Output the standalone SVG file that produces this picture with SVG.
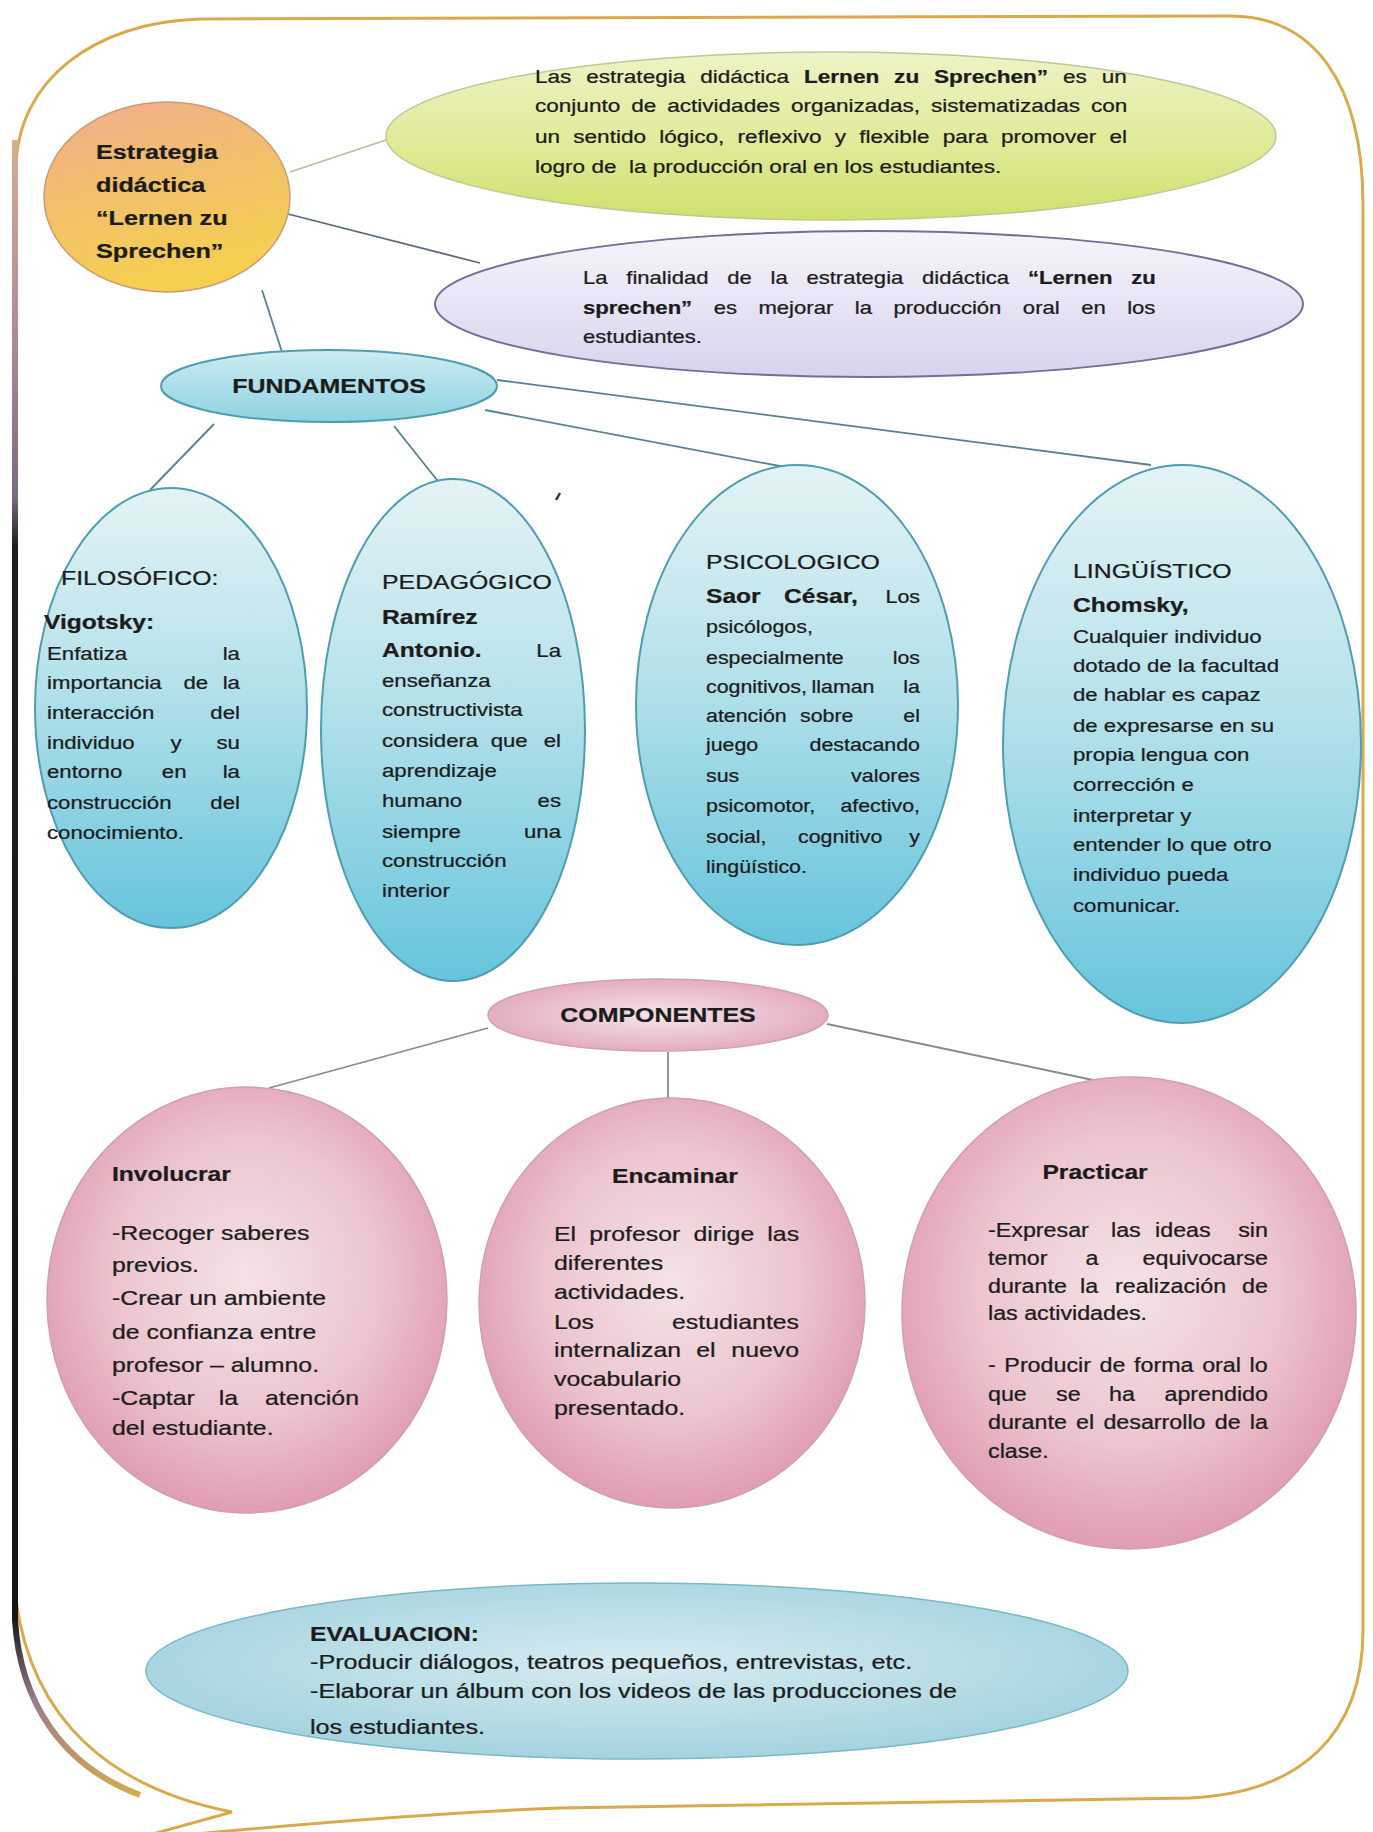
<svg xmlns="http://www.w3.org/2000/svg" width="1373" height="1832" viewBox="0 0 1373 1832">
<defs>
<style>
text{font-family:"Liberation Sans",Arial,sans-serif;fill:#1c1c1c;stroke:#1c1c1c;stroke-width:0.25}
.b{font-weight:bold}
.h{font-size:20.7px}
.n{font-size:20.5px;font-weight:bold}
.s{font-size:18.5px}
.p{font-size:17.8px}
.m{font-size:20.7px}
.r{font-size:19.4px}
.g{font-size:18.8px}
.l{font-size:18.4px}
.e{font-size:21px}
.end{text-anchor:end}
.mid{text-anchor:middle}
.cn{stroke:#5a6a7c;stroke-width:1.8;fill:none}
.blue{fill:url(#gBlue);stroke:#4f9db1;stroke-width:2}
.pink{fill:url(#gPink);stroke:#d0a0b0;stroke-width:1.5}
</style>
<linearGradient id="gOrange" x1="0" y1="0" x2="0.3" y2="1">
<stop offset="0" stop-color="#efad8f"/><stop offset="0.5" stop-color="#f2bf6c"/><stop offset="1" stop-color="#f5cf50"/>
</linearGradient>
<linearGradient id="gGreen" x1="0" y1="0" x2="0" y2="1">
<stop offset="0" stop-color="#eef3c6"/><stop offset="0.55" stop-color="#e0ea98"/><stop offset="1" stop-color="#d0e06c"/>
</linearGradient>
<linearGradient id="gLav" x1="0" y1="0" x2="0" y2="1">
<stop offset="0" stop-color="#f6f5fb"/><stop offset="1" stop-color="#d8d3ee"/>
</linearGradient>
<linearGradient id="gBlue" x1="0" y1="0" x2="0" y2="1">
<stop offset="0" stop-color="#e4f3f5"/><stop offset="0.45" stop-color="#b4e1ea"/><stop offset="1" stop-color="#66c4dc"/>
</linearGradient>
<linearGradient id="gFund" x1="0" y1="0" x2="0" y2="1">
<stop offset="0" stop-color="#cdecf1"/><stop offset="1" stop-color="#8dd2e2"/>
</linearGradient>
<radialGradient id="gPink" cx="0.5" cy="0.45" r="0.55">
<stop offset="0" stop-color="#f4e2e7"/><stop offset="0.6" stop-color="#ecc4d0"/><stop offset="1" stop-color="#e09cb2"/>
</radialGradient>
<radialGradient id="gComp" cx="0.5" cy="0.5" r="0.55">
<stop offset="0" stop-color="#f6e4ea"/><stop offset="1" stop-color="#e2a8bb"/>
</radialGradient>
<radialGradient id="gEval" cx="0.5" cy="0.45" r="0.55">
<stop offset="0" stop-color="#d6ebf0"/><stop offset="1" stop-color="#a4d3df"/>
</radialGradient>
<linearGradient id="gLeft" gradientUnits="userSpaceOnUse" x1="0" y1="130" x2="0" y2="1800">
<stop offset="0" stop-color="#d8b08a"/><stop offset="0.12" stop-color="#b48a9c"/><stop offset="0.22" stop-color="#7a6a80"/><stop offset="0.25" stop-color="#1e1e1e"/><stop offset="0.89" stop-color="#141414"/><stop offset="0.94" stop-color="#9a7a8a"/><stop offset="1" stop-color="#d8ae4c"/>
</linearGradient>
</defs>
<rect width="1373" height="1832" fill="#ffffff"/>

<g id="frame">
<path d="M 16,170 C 16,80 95,22 200,19 L 1230,16 C 1315,16 1363,85 1363,205 L 1363,1630 C 1363,1735 1300,1793 1190,1798 L 560,1808 C 420,1813 280,1826 185,1835 L 95,1850 L 232,1812 C 110,1788 32,1720 16,1600" fill="none" stroke="#d9aa4c" stroke-width="3"/>
<path d="M 15,140 L 15,1620 C 20,1700 60,1765 140,1795" fill="none" stroke="url(#gLeft)" stroke-width="6"/>
</g>

<g id="connectors">
<line class="cn" x1="290" y1="172" x2="392" y2="138" style="stroke:#b9c29e"/>
<line class="cn" x1="288" y1="214" x2="480" y2="263"/>
<line class="cn" x1="262" y1="290" x2="282" y2="352" style="stroke:#5a8090"/>
<line class="cn" x1="214" y1="424" x2="150" y2="490" style="stroke:#5a8090"/>
<line class="cn" x1="394" y1="426" x2="441" y2="485" style="stroke:#5a8090"/>
<line class="cn" x1="485" y1="410" x2="790" y2="468" style="stroke:#5a8090"/>
<line class="cn" x1="497" y1="380" x2="1151" y2="465" style="stroke:#5a8090"/>
<line class="cn" x1="488" y1="1028" x2="269" y2="1088" style="stroke:#8a8a8a"/>
<line class="cn" x1="668" y1="1052" x2="668" y2="1098" style="stroke:#8a8a8a"/>
<line class="cn" x1="827" y1="1024" x2="1093" y2="1080" style="stroke:#8a8a8a"/>
<line x1="556" y1="500" x2="560" y2="493" stroke="#333" stroke-width="2.5"/>
</g>

<g id="n-estrategia">
<ellipse cx="167" cy="197" rx="123" ry="95" fill="url(#gOrange)" stroke="#c99c74" stroke-width="1.5"/>
<g transform="translate(96,0) scale(1.2,1)">
<text class="b" style="font-size:21px"><tspan x="0" y="159">Estrategia</tspan><tspan x="0" y="192">didáctica</tspan><tspan x="0" y="225">“Lernen zu</tspan><tspan x="0" y="258">Sprechen”</tspan></text>
</g>
</g>

<g id="n-definicion">
<ellipse cx="831" cy="136" rx="445" ry="84" fill="url(#gGreen)" stroke="#bcc997" stroke-width="1.5"/>
<g transform="translate(535,0) scale(1.2,1)">
<text class="g" x="0" y="83" word-spacing="7.2">Las estrategia didáctica <tspan class="b">Lernen zu Sprechen”</tspan> es un</text>
<text class="g" x="0" y="112" word-spacing="3.9">conjunto de actividades organizadas, sistematizadas con</text>
<text class="g" x="0" y="143" word-spacing="5.8">un sentido lógico, reflexivo y flexible para promover el</text>
<text class="g" x="0" y="173" xml:space="preserve">logro de  la producción oral en los estudiantes.</text>
</g>
</g>

<g id="n-finalidad">
<ellipse cx="869" cy="304" rx="434" ry="73" fill="url(#gLav)" stroke="#6f6f98" stroke-width="2"/>
<g transform="translate(583,0) scale(1.2,1)">
<text class="l" x="0" y="284" word-spacing="10.5">La finalidad de la estrategia didáctica <tspan class="b">“Lernen zu</tspan></text>
<text class="l" x="0" y="314" word-spacing="12.8"><tspan class="b">sprechen”</tspan> es mejorar la producción oral en los</text>
<text class="l" x="0" y="343">estudiantes.</text>
</g>
</g>

<g id="n-fundamentos">
<ellipse cx="329" cy="386" rx="168" ry="36" fill="url(#gFund)" stroke="#4f9db1" stroke-width="2"/>
<g transform="translate(329,0) scale(1.2,1)"><text class="b mid" style="font-size:20.8px" x="0" y="393">FUNDAMENTOS</text></g>
</g>

<g id="n-filosofico">
<ellipse class="blue" cx="171" cy="708" rx="136" ry="220"/>
<g transform="translate(47,0) scale(1.2,1)">
<text class="h" x="11.7" y="585">FILOSÓFICO:</text>
<text class="n" x="-2.5" y="629">Vigotsky:</text>
<text class="s" y="660"><tspan x="0">Enfatiza</tspan><tspan class="end" x="160.8">la</tspan></text>
<text class="s" y="689"><tspan x="0">importancia</tspan><tspan class="mid" x="124">de</tspan><tspan class="end" x="160.8">la</tspan></text>
<text class="s" y="719"><tspan x="0">interacción</tspan><tspan class="end" x="160.8">del</tspan></text>
<text class="s" y="749"><tspan x="0">individuo</tspan><tspan class="mid" x="107.5">y</tspan><tspan class="end" x="160.8">su</tspan></text>
<text class="s" y="778"><tspan x="0">entorno</tspan><tspan class="mid" x="106">en</tspan><tspan class="end" x="160.8">la</tspan></text>
<text class="s" y="809"><tspan x="0">construcción</tspan><tspan class="end" x="160.8">del</tspan></text>
<text class="s" x="0" y="839">conocimiento.</text>
</g>
</g>

<g id="n-pedagogico">
<ellipse class="blue" cx="453" cy="730" rx="132" ry="251"/>
<g transform="translate(382,0) scale(1.2,1)">
<text class="h" x="0" y="589">PEDAGÓGICO</text>
<text class="n" x="0" y="624">Ramírez</text>
<text class="n" x="0" y="657">Antonio.</text>
<text class="s end" x="149.2" y="657">La</text>
<text class="s" x="0" y="687">enseñanza</text>
<text class="s" x="0" y="716">constructivista</text>
<text class="s" y="747"><tspan x="0">considera</tspan><tspan class="mid" x="106">que</tspan><tspan class="end" x="149.2">el</tspan></text>
<text class="s" x="0" y="777">aprendizaje</text>
<text class="s" y="807"><tspan x="0">humano</tspan><tspan class="end" x="149.2">es</tspan></text>
<text class="s" y="838"><tspan x="0">siempre</tspan><tspan class="end" x="149.2">una</tspan></text>
<text class="s" x="0" y="867">construcción</text>
<text class="s" x="0" y="897">interior</text>
</g>
</g>

<g id="n-psicologico">
<ellipse class="blue" cx="797" cy="705" rx="161" ry="240"/>
<g transform="translate(706,0) scale(1.2,1)">
<text class="h" x="0" y="569">PSICOLOGICO</text>
<text class="n" y="603"><tspan x="0">Saor</tspan><tspan x="65">César,</tspan></text>
<text class="p end" x="178.3" y="603">Los</text>
<text class="p" x="0" y="633">psicólogos,</text>
<text class="p" y="664"><tspan x="0">especialmente</tspan><tspan class="end" x="178.3">los</tspan></text>
<text class="p" y="693"><tspan x="0">cognitivos,</tspan><tspan x="88">llaman</tspan><tspan class="end" x="178.3">la</tspan></text>
<text class="p" y="722"><tspan x="0">atención</tspan><tspan x="78.3">sobre</tspan><tspan class="end" x="178.3">el</tspan></text>
<text class="p" y="751"><tspan x="0">juego</tspan><tspan class="end" x="178.3">destacando</tspan></text>
<text class="p" y="782"><tspan x="0">sus</tspan><tspan class="end" x="178.3">valores</tspan></text>
<text class="p" y="812"><tspan x="0">psicomotor,</tspan><tspan class="end" x="178.3">afectivo,</tspan></text>
<text class="p" y="843"><tspan x="0">social,</tspan><tspan x="76.7">cognitivo</tspan><tspan class="end" x="178.3">y</tspan></text>
<text class="p" x="0" y="873">lingüístico.</text>
</g>
</g>

<g id="n-linguistico">
<ellipse class="blue" cx="1182" cy="744" rx="179" ry="279"/>
<g transform="translate(1073,0) scale(1.2,1)">
<text class="h" x="0" y="578">LINGÜÍSTICO</text>
<text class="n" x="0" y="612">Chomsky,</text>
<text class="s"><tspan x="0" y="643">Cualquier individuo</tspan><tspan x="0" y="672">dotado de la facultad</tspan><tspan x="0" y="701">de hablar es capaz</tspan><tspan x="0" y="732">de expresarse en su</tspan><tspan x="0" y="761">propia lengua con</tspan><tspan x="0" y="791">corrección e</tspan><tspan x="0" y="822">interpretar y</tspan><tspan x="0" y="851">entender lo que otro</tspan><tspan x="0" y="881">individuo pueda</tspan><tspan x="0" y="912">comunicar.</tspan></text>
</g>
</g>

<g id="n-componentes">
<ellipse cx="658" cy="1015" rx="170" ry="36" fill="url(#gComp)" stroke="#d0a2b2" stroke-width="1.5"/>
<g transform="translate(658,0) scale(1.2,1)"><text class="b mid" style="font-size:20.8px" x="0" y="1022">COMPONENTES</text></g>
</g>

<g id="n-involucrar">
<ellipse class="pink" cx="247" cy="1300" rx="200" ry="213"/>
<g transform="translate(112,0) scale(1.2,1)">
<text class="n" x="0" y="1181">Involucrar</text>
<text class="m"><tspan x="0" y="1240">-Recoger saberes</tspan><tspan x="0" y="1272">previos.</tspan><tspan x="0" y="1305">-Crear un ambiente</tspan><tspan x="0" y="1339">de confianza entre</tspan><tspan x="0" y="1372">profesor – alumno.</tspan></text>
<text class="m" y="1405"><tspan x="0">-Captar</tspan><tspan x="89">la</tspan><tspan class="end" x="205.8">atención</tspan></text>
<text class="m" x="0" y="1435">del estudiante.</text>
</g>
</g>

<g id="n-encaminar">
<ellipse class="pink" cx="672" cy="1303" rx="193" ry="205"/>
<g transform="translate(554,0) scale(1.2,1)">
<text class="n mid" x="100.8" y="1183">Encaminar</text>
<text class="m" x="0" y="1241" word-spacing="5.2">El profesor dirige las</text>
<text class="m" x="0" y="1270">diferentes</text>
<text class="m" x="0" y="1299">actividades.</text>
<text class="m" y="1329"><tspan x="0">Los</tspan><tspan class="end" x="204.2">estudiantes</tspan></text>
<text class="m" y="1357"><tspan x="0">internalizan</tspan><tspan class="mid" x="126.6">el</tspan><tspan class="end" x="204.2">nuevo</tspan></text>
<text class="m" x="0" y="1386">vocabulario</text>
<text class="m" x="0" y="1415">presentado.</text>
</g>
</g>

<g id="n-practicar">
<ellipse class="pink" cx="1129" cy="1313" rx="227" ry="236"/>
<g transform="translate(988,0) scale(1.2,1)">
<text class="n mid" x="89.2" y="1179">Practicar</text>
<text class="r" y="1237"><tspan x="0">-Expresar</tspan><tspan x="102.5">las</tspan><tspan x="139.2">ideas</tspan><tspan class="end" x="233.3">sin</tspan></text>
<text class="r" y="1265"><tspan x="0">temor</tspan><tspan class="mid" x="86.7">a</tspan><tspan class="end" x="233.3">equivocarse</tspan></text>
<text class="r" y="1293"><tspan x="0">durante</tspan><tspan x="76.7">la</tspan><tspan x="105.8">realización</tspan><tspan class="end" x="233.3">de</tspan></text>
<text class="r" x="0" y="1320">las actividades.</text>
<text class="r" x="0" y="1372" word-spacing="1.8">- Producir de forma oral lo</text>
<text class="r" y="1401"><tspan x="0">que</tspan><tspan x="56.7">se</tspan><tspan x="100.8">ha</tspan><tspan class="end" x="233.3">aprendido</tspan></text>
<text class="r" x="0" y="1429" word-spacing="2.3">durante el desarrollo de la</text>
<text class="r" x="0" y="1458">clase.</text>
</g>
</g>

<g id="n-evaluacion">
<ellipse cx="637" cy="1671" rx="491" ry="88" fill="url(#gEval)" stroke="#7ab8c8" stroke-width="1.5"/>
<g transform="translate(310,0) scale(1.2,1)">
<text class="n" x="0" y="1641">EVALUACION:</text>
<text class="e"><tspan x="0" y="1669">-Producir diálogos, teatros pequeños, entrevistas, etc.</tspan><tspan x="0" y="1698">-Elaborar un álbum con los videos de las producciones de</tspan><tspan x="0" y="1734">los estudiantes.</tspan></text>
</g>
</g>
</svg>
